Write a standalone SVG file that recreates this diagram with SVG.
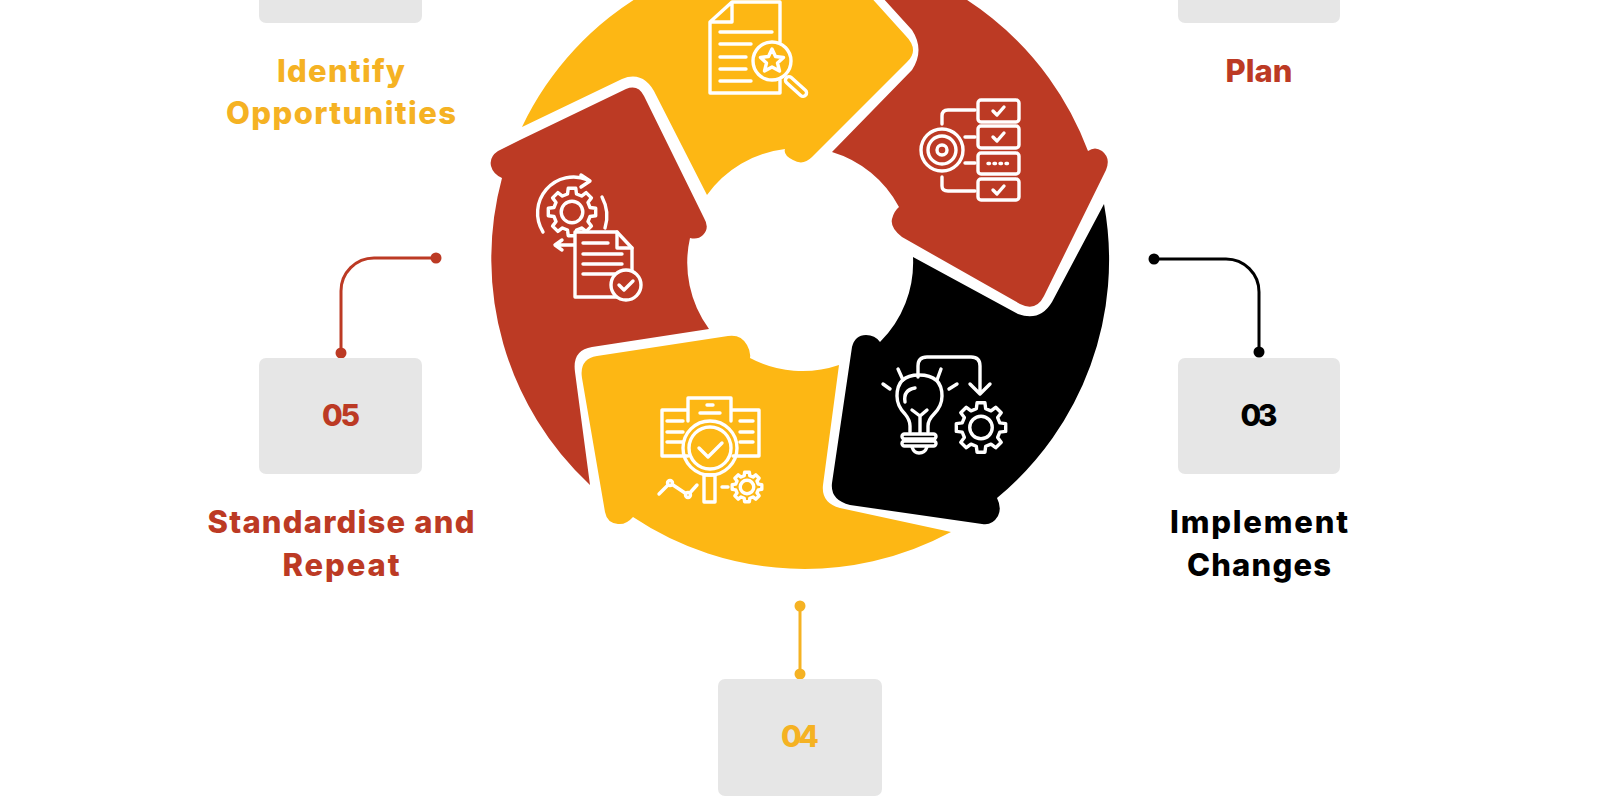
<svg xmlns="http://www.w3.org/2000/svg" xmlns:xlink="http://www.w3.org/1999/xlink" width="1600" height="800" viewBox="0 0 1600 800">
<style>
.y{fill:#FDB714}.r{fill:#BC3A24}.k{fill:#000}
.ty{fill:#F5B223}.tr{fill:#BC3A24}.tk{fill:#000}
.box{fill:#E6E6E6}
text{font-family:"Inter","Liberation Sans",sans-serif;font-weight:800;text-anchor:middle}
.lab{font-size:31px}.num{font-size:30px}
.i{fill:none;stroke:#fff;stroke-width:3.4;stroke-linecap:round;stroke-linejoin:round}
.g polygon,.g circle{vector-effect:non-scaling-stroke}
.c{fill:none;stroke-width:3}
</style>
<defs>
<g id="gear" class="g"><polygon points="19.75,3.13 15.04,3.75 13.3,7.98 16.18,11.76 11.76,16.18 7.98,13.3 3.75,15.04 3.13,19.75 -3.13,19.75 -3.75,15.04 -7.98,13.3 -11.76,16.18 -16.18,11.76 -13.3,7.98 -15.04,3.75 -19.75,3.13 -19.75,-3.13 -15.04,-3.75 -13.3,-7.98 -16.18,-11.76 -11.76,-16.18 -7.98,-13.3 -3.75,-15.04 -3.13,-19.75 3.13,-19.75 3.75,-15.04 7.98,-13.3 11.76,-16.18 16.18,-11.76 13.3,-7.98 15.04,-3.75 19.75,-3.13"/><circle r="9"/></g>
</defs>
<rect width="1600" height="800" fill="#fff"/>
<g id="connectors">
<circle cx="557" cy="-5" r="5" class="ty"/>
<circle cx="1048" cy="-5" r="5" class="tr"/>
<path class="c" stroke="#BC3A24" d="M436 258H374A33 33 0 0 0 341 291V353"/>
<circle cx="436" cy="258" r="5.5" class="tr"/><circle cx="341" cy="353" r="5.5" class="tr"/>
<path class="c" stroke="#000" d="M1154 259H1226A33 33 0 0 1 1259 292V352"/>
<circle cx="1154" cy="259" r="5.5" class="tk"/><circle cx="1259" cy="352" r="5.5" class="tk"/>
<path class="c" stroke="#F5B223" d="M800 606V674"/>
<circle cx="800" cy="606" r="5.5" class="ty"/><circle cx="800" cy="674" r="5.5" class="ty"/>
</g>
<g id="node-01">
<path class="y" d="M522 127A309 309 0 0 1 830 -48L905 35Q920 50 907 62L812 157Q803 166 793 160Q783 155 785 149A112 112 0 0 0 707 195L656 95Q644 70 622 79Z"/>
<g class="i">
<path d="M780 42V2H732L710 22V93H780V80M732 2V22H710"/>
<path d="M720 32H772M720 44H751M720 57H746M720 69H746M720 81H751"/>
<circle cx="772" cy="61" r="19"/>
<path d="M772 49L775.5 56.5L783.5 57.5L777.5 63L779.5 71L772 67L764.5 71L766.5 63L760.5 57.5L768.5 56.5Z"/>
<rect x="783" y="83" width="26" height="7" rx="3.5" transform="rotate(42 796 86.5)"/>
</g>
<rect class="box" x="259" y="-93" width="163" height="116" rx="7"/>
<text class="lab ty" x="341" y="82" textLength="128" lengthAdjust="spacing">Identify</text>
<text class="lab ty" x="341" y="124" textLength="230" lengthAdjust="spacing">Opportunities</text>
</g>
<g id="node-02">
<path class="r" d="M832 152L912 70Q925 50 912 30L842 -47A309 309 0 0 1 1088 151Q1095 146 1102 151Q1111 158 1106 170L1044 296Q1036 312 1020 304L902 237Q890 228 892 219Q894 211 899 207A112 112 0 0 0 832 152Z"/>
<g class="i">
<rect x="978" y="100" width="41" height="22" rx="3"/><rect x="978" y="126" width="41" height="22" rx="3"/><rect x="978" y="153" width="41" height="21" rx="3"/><rect x="978" y="179" width="41" height="21" rx="3"/>
<path d="M993 111L997 115L1004 107M993 137L997 141L1004 133M993 190L997 194L1004 186"/>
<path d="M988 163.5H1010" stroke-dasharray="1.5 4.5"/>
<circle cx="942" cy="150" r="21"/><circle cx="942" cy="150" r="14"/><circle cx="942" cy="150" r="5"/>
<path d="M975 110H948Q942 110 942 116V124M965 137H975M965 163H975M942 177V186Q942 191 948 191H975"/>
</g>
<rect class="box" x="1178" y="-93" width="162" height="116" rx="7"/>
<text class="lab tr" x="1259" y="82" textLength="67" lengthAdjust="spacing">Plan</text>
</g>
<g id="node-03">
<path class="k" d="M1104 204A309 309 0 0 1 997 498Q1002 508 998 516Q992 526 982 524L850 505Q830 500 832 483L852 347Q855 335 866 335Q875 335 880 342A112 112 0 0 0 913 257L1018 314Q1040 322 1052 302Z"/>
<g class="i">
<path d="M918 377V366Q918 357 927 357H971Q980 357 980 366V393M970 384L980 394L990 384"/>
<path d="M910 432V426Q910 420 905 414Q897 406 897 396Q897 375 919 375Q942 375 942 396Q942 406 934 414Q928 420 928 426V432"/>
<path d="M905 402Q903 390 915 388M912 410L920 416L927 410M920 416V433"/>
<rect x="902" y="434" width="34" height="5" rx="2.5"/><rect x="902" y="441" width="34" height="5" rx="2.5"/>
<path d="M912 447Q914 453 919 453Q925 453 927 447"/>
<path d="M883 384L890 389M898 369L903 380M941 369L937 380M957 384L949 389"/>
<use xlink:href="#gear" href="#gear" transform="translate(981 427.5) scale(1.25)"/>
</g>
<rect class="box" x="1178" y="358" width="162" height="116" rx="7"/>
<text class="num tk" x="1259" y="426" textLength="37" lengthAdjust="spacing">03</text>
<text class="lab tk" x="1259" y="533" textLength="178" lengthAdjust="spacing">Implement</text>
<text class="lab tk" x="1259" y="576" textLength="144" lengthAdjust="spacing">Changes</text>
</g>
<g id="node-04">
<path class="y" d="M750 358A112 112 0 0 0 839 365L823 485Q821 503 840 508L951 532A309 309 0 0 1 633 517Q626 525 618 524Q607 523 605 512L582 378Q579 359 597 356L728 336Q741 334 747 345Q751 352 750 358Z"/>
<g class="i">
<path d="M688 456H662V410H688M731 410H759V456H733M688 421V398H731V421"/>
<path d="M667 421H683M667 432H683M667 442H683M740 421H753M740 432H753M740 442H753M707 405H713M700 413H720"/>
<circle cx="710" cy="448" r="27"/><circle cx="710" cy="448" r="21"/>
<path d="M699 448L708 457L722 443"/>
<rect x="704" y="475" width="11" height="27"/>
<path d="M659 494L670 483L688 495L697 485M722 487H728"/>
<circle cx="670" cy="483" r="2.5" fill="#FDB714"/><circle cx="688" cy="495" r="2.5" fill="#FDB714"/>
<use xlink:href="#gear" href="#gear" transform="translate(747 487) scale(0.75)"/>
</g>
<rect class="box" x="718" y="679" width="164" height="117" rx="7"/>
<text class="num ty" x="800" y="747" textLength="38" lengthAdjust="spacing">04</text>
</g>
<g id="node-05">
<path class="r" d="M520 140L626 89Q638 84 644 96L704 218Q710 228 703 235Q698 240 690 238A112 112 0 0 0 709 329L592 347Q572 350 575 372L590 485A309 309 0 0 1 502 178Q493 174 491 166Q489 157 498 151Z"/>
<g class="i">
<path d="M543 232A36 36 0 0 1 588 180M581 175L590 181L581 187M602 197Q610 212 605 228"/>
<path d="M575 245H556M562 240L555 245L562 250"/>
<use xlink:href="#gear" href="#gear" transform="translate(572 212) scale(1.2)"/>
<path d="M575 232H617L632 248V297H575Z" fill="#BC3A24"/>
<path d="M617 232V248H632M583 243H608M583 254H622M583 264H622M583 274H615"/>
<circle cx="626" cy="285" r="15" fill="#BC3A24"/>
<path d="M619 285L624 290L633 281"/>
</g>
<rect class="box" x="259" y="358" width="163" height="116" rx="7"/>
<text class="num tr" x="341" y="426" textLength="38" lengthAdjust="spacing">05</text>
<text class="lab tr" x="341" y="533" textLength="267" lengthAdjust="spacing">Standardise and</text>
<text class="lab tr" x="341" y="576" textLength="117" lengthAdjust="spacing">Repeat</text>
</g>
</svg>
